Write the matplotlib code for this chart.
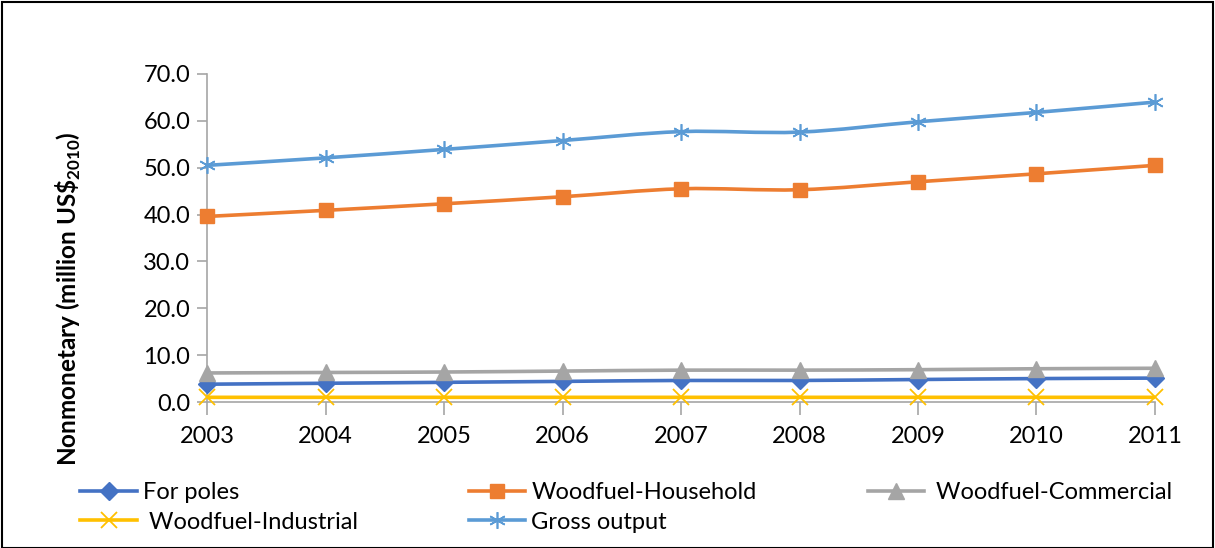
import numpy as np
import matplotlib
matplotlib.use("Agg")
from matplotlib import pyplot as plt
from matplotlib.path import Path
from matplotlib.patches import PathPatch, Rectangle
from matplotlib.lines import Line2D

years = [2003, 2004, 2005, 2006, 2007, 2008, 2009, 2010, 2011]
for_poles = [3.8, 4.0, 4.2, 4.4, 4.6, 4.6, 4.8, 5.0, 5.1]
wf_household = [39.6, 40.9, 42.3, 43.8, 45.5, 45.3, 47.0, 48.7, 50.5]
wf_commercial = [6.2, 6.3, 6.4, 6.6, 6.8, 6.8, 6.9, 7.1, 7.2]
wf_industrial = [1.0, 1.0, 1.0, 1.0, 1.0, 1.0, 1.0, 1.0, 1.0]
gross_output = [50.5, 52.1, 53.9, 55.8, 57.7, 57.6, 59.8, 61.8, 64.0]

y_ticks = [0, 10, 20, 30, 40, 50, 60, 70]


def smooth_path(x, y):
    # Bezier segments through the points (Catmull-Rom style control points)
    p = np.column_stack([x, y]).astype(float)
    verts = [p[0]]
    codes = [Path.MOVETO]
    n = len(p)
    for i in range(n - 1):
        p0 = p[max(i - 1, 0)]
        p1 = p[i]
        p2 = p[i + 1]
        p3 = p[min(i + 2, n - 1)]
        c1 = p1 + (p2 - p0) / 6.0
        c2 = p2 - (p3 - p1) / 6.0
        verts += [c1, c2, p2]
        codes += [Path.CURVE4] * 3
    return Path(verts, codes)


def main():
    plt.rcParams['font.family'] = ['Lato', 'DejaVu Sans']
    plt.rcParams['mathtext.fontset'] = 'custom'
    plt.rcParams['mathtext.rm'] = 'Lato'
    plt.rcParams['mathtext.bf'] = 'Lato:bold'
    fs = 17

    fig = plt.figure(figsize=(12.15, 5.48), dpi=100)
    fig.patches.append(Rectangle((0.002, 0.0), 0.996, 0.996, transform=fig.transFigure,
                                 fill=False, edgecolor='black', linewidth=1.5))

    ax = fig.add_axes([0.1704, 0.2664, 0.7802, 0.5986])

    series = [
        ("For poles", for_poles, '#4472C4', dict(marker='D', markersize=9)),
        ("Woodfuel-Household", wf_household, '#ED7D31', dict(marker='s', markersize=10)),
        (" Woodfuel-Commercial", wf_commercial, '#A5A5A5', dict(marker='^', markersize=11)),
        (" Woodfuel-Industrial", wf_industrial, '#FFC000',
         dict(marker='x', markersize=11, markeredgewidth=1.3)),
        ("Gross output", gross_output, '#5B9BD5',
         dict(marker=(6, 2, 0), markersize=12, markeredgewidth=1.2)),
    ]

    handles = {}
    for label, vals, color, mk in series:
        patch = PathPatch(smooth_path(years, vals), fill=False, edgecolor=color,
                          linewidth=2.6, capstyle='round', joinstyle='round', zorder=2)
        ax.add_patch(patch)
        ax.plot(years, vals, linestyle='none', color=color, markeredgecolor=color,
                zorder=3, clip_on=False, **mk)
        handles[label] = Line2D([], [], color=color, linewidth=2.6,
                                markeredgecolor=color, **mk)

    ax.set_xlim(2003, 2011)
    ax.set_ylim(0, 70)
    ax.set_xticks(years)
    ax.set_xticklabels([str(y) for y in years], fontsize=fs)
    ax.set_yticks(y_ticks)
    ax.set_yticklabels([f"{v:.1f}" for v in y_ticks], fontsize=fs)

    for side in ('top', 'right'):
        ax.spines[side].set_visible(False)
    for side in ('left', 'bottom'):
        ax.spines[side].set_color('#A6A6A6')
        ax.spines[side].set_linewidth(1.2)
    ax.tick_params(axis='y', direction='out', length=7, color='#A6A6A6', width=1.2, pad=5)
    ax.tick_params(axis='x', direction='out', length=9, color='#A6A6A6', width=1.2, pad=8)

    ax.set_ylabel(r"Nonmonetary (million US\$$_{\mathbf{2010}}$)", fontsize=17.5,
                  fontweight='bold')
    ax.yaxis.set_label_coords(-0.131, 0.315)

    # column-major fill so the entries read left-to-right in rows
    order = ["For poles", " Woodfuel-Industrial", "Woodfuel-Household",
             "Gross output", " Woodfuel-Commercial"]
    fig.legend([handles[k] for k in order], order, loc='upper left',
               bbox_to_anchor=(0.066, 0.12), bbox_transform=fig.transFigure,
               ncol=3, frameon=False, fontsize=fs, handlelength=2.4,
               handletextpad=0.25, columnspacing=4.7, labelspacing=0.35,
               borderaxespad=0, borderpad=0)

    fig.savefig("out.png", dpi=100)
    plt.close(fig)


if __name__ == "__main__":
    main()
